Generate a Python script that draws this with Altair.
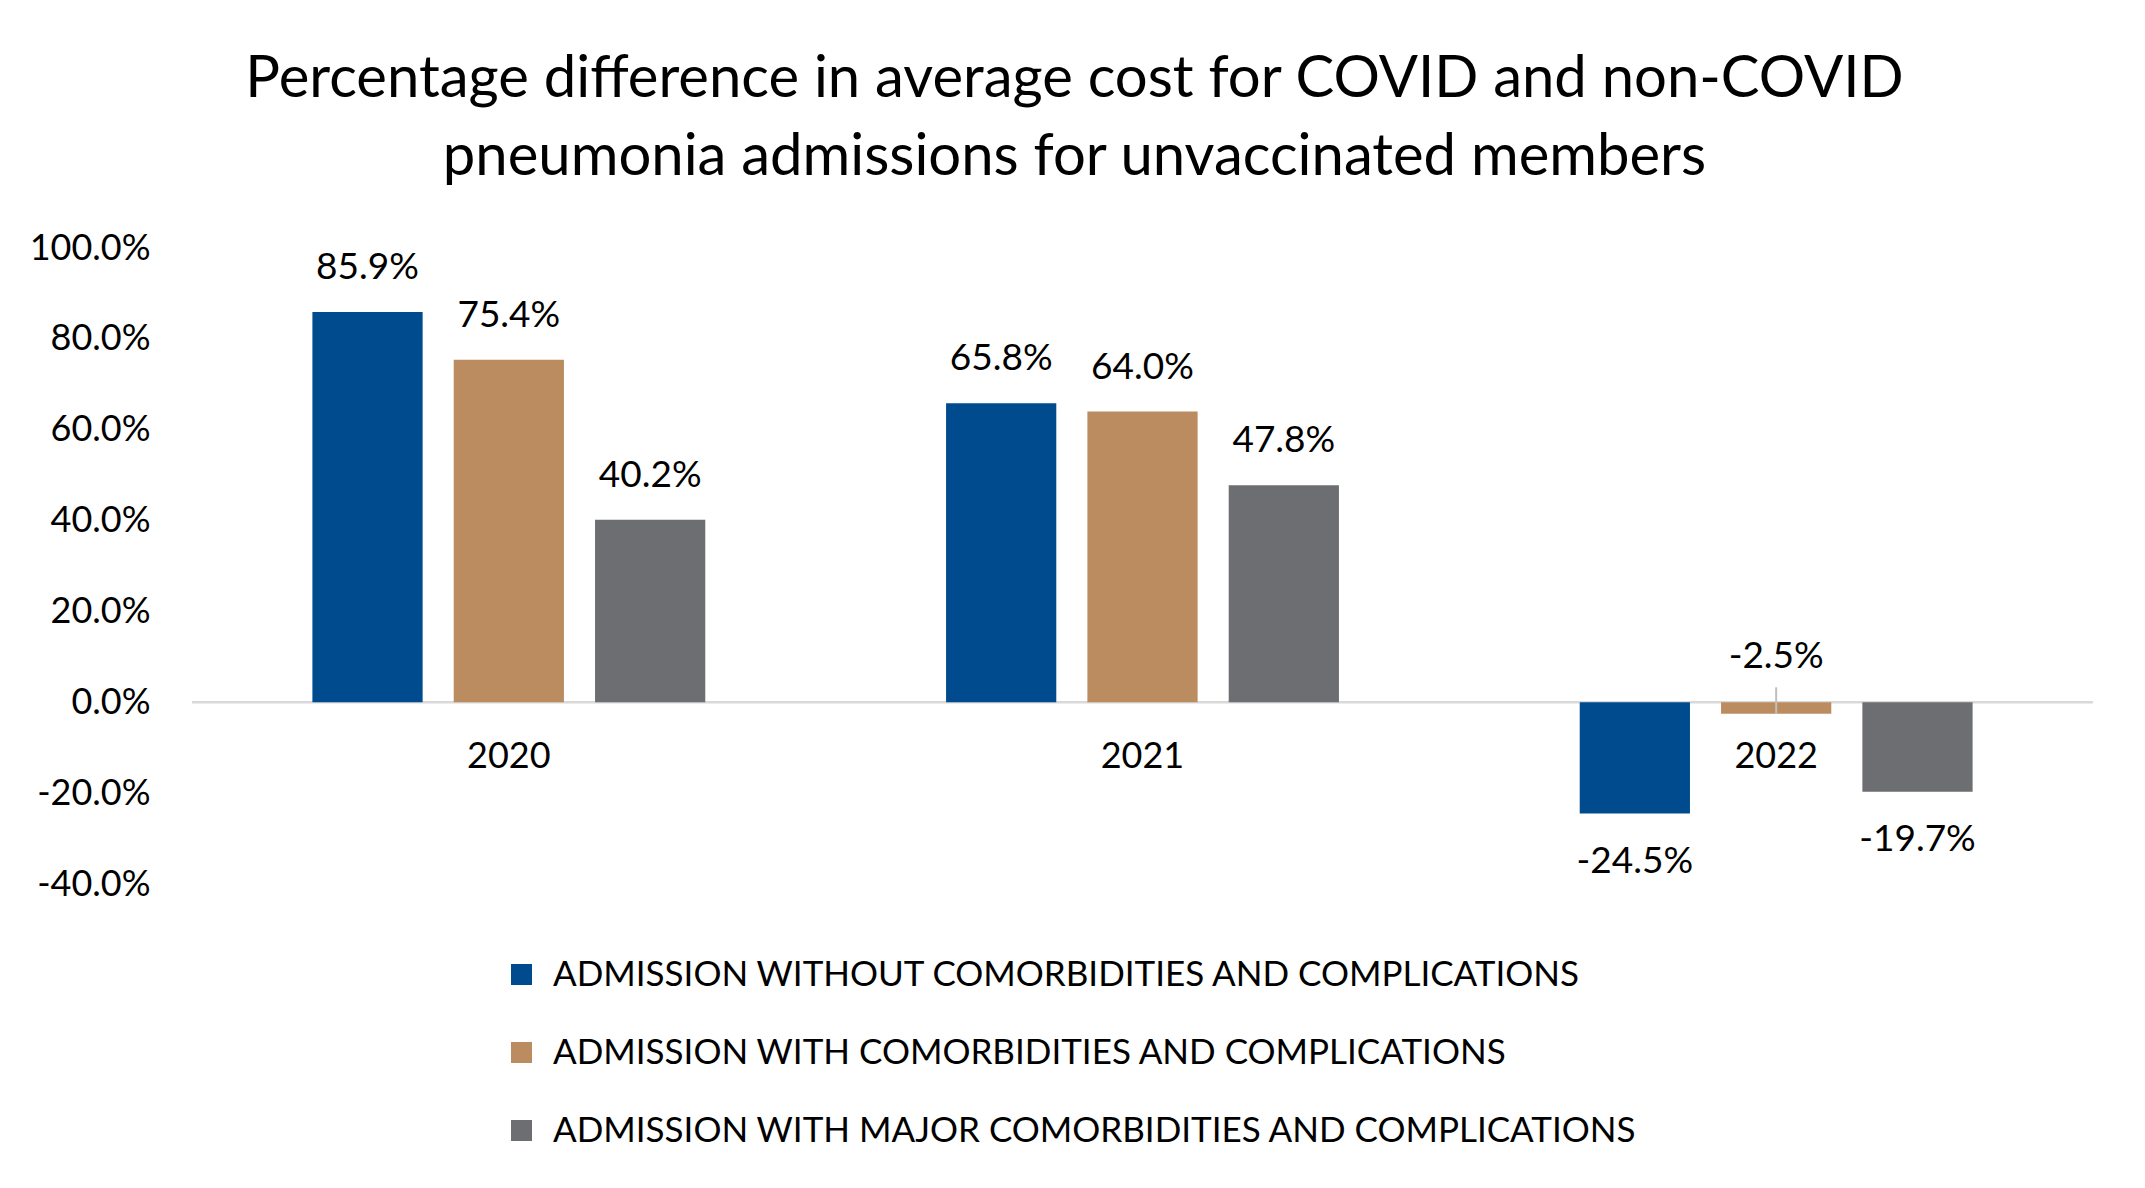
import altair as alt
import pandas as pd

years = ["2020", "2021", "2022"]
series = [
    "ADMISSION WITHOUT COMORBIDITIES AND COMPLICATIONS",
    "ADMISSION WITH COMORBIDITIES AND COMPLICATIONS",
    "ADMISSION WITH MAJOR COMORBIDITIES AND COMPLICATIONS",
]
without_cc = [85.9, 65.8, -24.5]
with_cc = [75.4, 64.0, -2.5]
with_mcc = [40.2, 47.8, -19.7]
colors = ["#004B8D", "#BB8C60", "#6D6E72"]

rows = []
for i, y in enumerate(years):
    for s, vals in zip(series, [without_cc, with_cc, with_mcc]):
        rows.append({"year": y, "series": s, "v": vals[i]})
df = pd.DataFrame(rows)

FONT = "Lato"
W, H = 1901, 636
LBL = "(datum.v < 0 ? '-' : '') + format(abs(datum.v), '.1f') + '%'"

x = alt.X("year:N", sort=years, axis=None,
          scale=alt.Scale(paddingInner=0.38, paddingOuter=0.19))
xo = alt.XOffset("series:N", sort=series,
                 scale=alt.Scale(paddingInner=0.22, paddingOuter=0))
yscale = alt.Scale(domain=[-40, 100], nice=False, zero=False)

base = alt.Chart(df)

bars = base.mark_bar().encode(
    x=x, xOffset=xo,
    y=alt.Y("v:Q", scale=yscale, title=None,
            axis=alt.Axis(values=[-40, -20, 0, 20, 40, 60, 80, 100],
                          labelExpr="(datum.value < 0 ? '-' : '') + format(abs(datum.value), '.1f') + '%'",
                          domain=False, ticks=False, grid=False,
                          labelFontSize=36, labelFont=FONT, labelColor="#000000",
                          labelPadding=42)),
    color=alt.Color("series:N", sort=series,
                    scale=alt.Scale(domain=series, range=colors),
                    legend=alt.Legend(title=None, orient="none", legendX=312, legendY=709,
                                      direction="vertical", symbolType="square",
                                      symbolSize=441, symbolStrokeWidth=0,
                                      labelFont=FONT, labelFontSize=35,
                                      labelColor="#000000", labelLimit=3000,
                                      rowPadding=42, labelOffset=14)),
)

zero = base.transform_aggregate(n="count()").transform_calculate(z="0").mark_rule(
    color="#D9D9D9", strokeWidth=2.5).encode(y=alt.Y("z:Q", scale=yscale))

lab_pos = base.transform_filter("datum.v >= 0").transform_calculate(t=LBL).mark_text(
    font=FONT, fontSize=37, baseline="middle", dy=-44, color="#000000").encode(
    x=x, xOffset=xo, y=alt.Y("v:Q", scale=yscale), text="t:N")

lab_neg = base.transform_filter("datum.v < -5").transform_calculate(t=LBL).mark_text(
    font=FONT, fontSize=37, baseline="middle", dy=48, color="#000000").encode(
    x=x, xOffset=xo, y=alt.Y("v:Q", scale=yscale), text="t:N")

small = base.transform_filter("datum.v < 0 && datum.v >= -5").transform_calculate(
    t=LBL, z="0")
lab_small = small.mark_text(
    font=FONT, fontSize=37, baseline="middle", dy=-45, color="#000000").encode(
    x=x, xOffset=xo, y=alt.Y("z:Q", scale=yscale), text="t:N")
leader = small.mark_rule(color="#BFBFBF", strokeWidth=2, yOffset=-15).encode(
    x=x, xOffset=xo, y=alt.Y("z:Q", scale=yscale), y2="v:Q")

year_lab = base.transform_aggregate(n="count()", groupby=["year"]).transform_calculate(
    z="0").mark_text(font=FONT, fontSize=36, baseline="middle", dy=55,
                     color="#000000").encode(
    x=x, y=alt.Y("z:Q", scale=yscale), text="year:N")

chart = alt.layer(zero, bars, leader, lab_pos, lab_neg, lab_small, year_lab).properties(
    width=W, height=H,
    title=alt.TitleParams(
        text=["Percentage difference in average cost for COVID and non-COVID",
              "pneumonia admissions for unvaccinated members"],
        font=FONT, fontSize=58, fontWeight="normal", color="#000000",
        anchor="middle", lineHeight=78, offset=43, dx=-68),
    autosize=alt.AutoSizeParams(type="none"),
    padding={"left": 184, "top": 240, "right": 36, "bottom": 290},
).configure(background="white").configure_view(strokeWidth=0)

chart.save("out.html", embed_options={"renderer": "svg", "actions": False})
